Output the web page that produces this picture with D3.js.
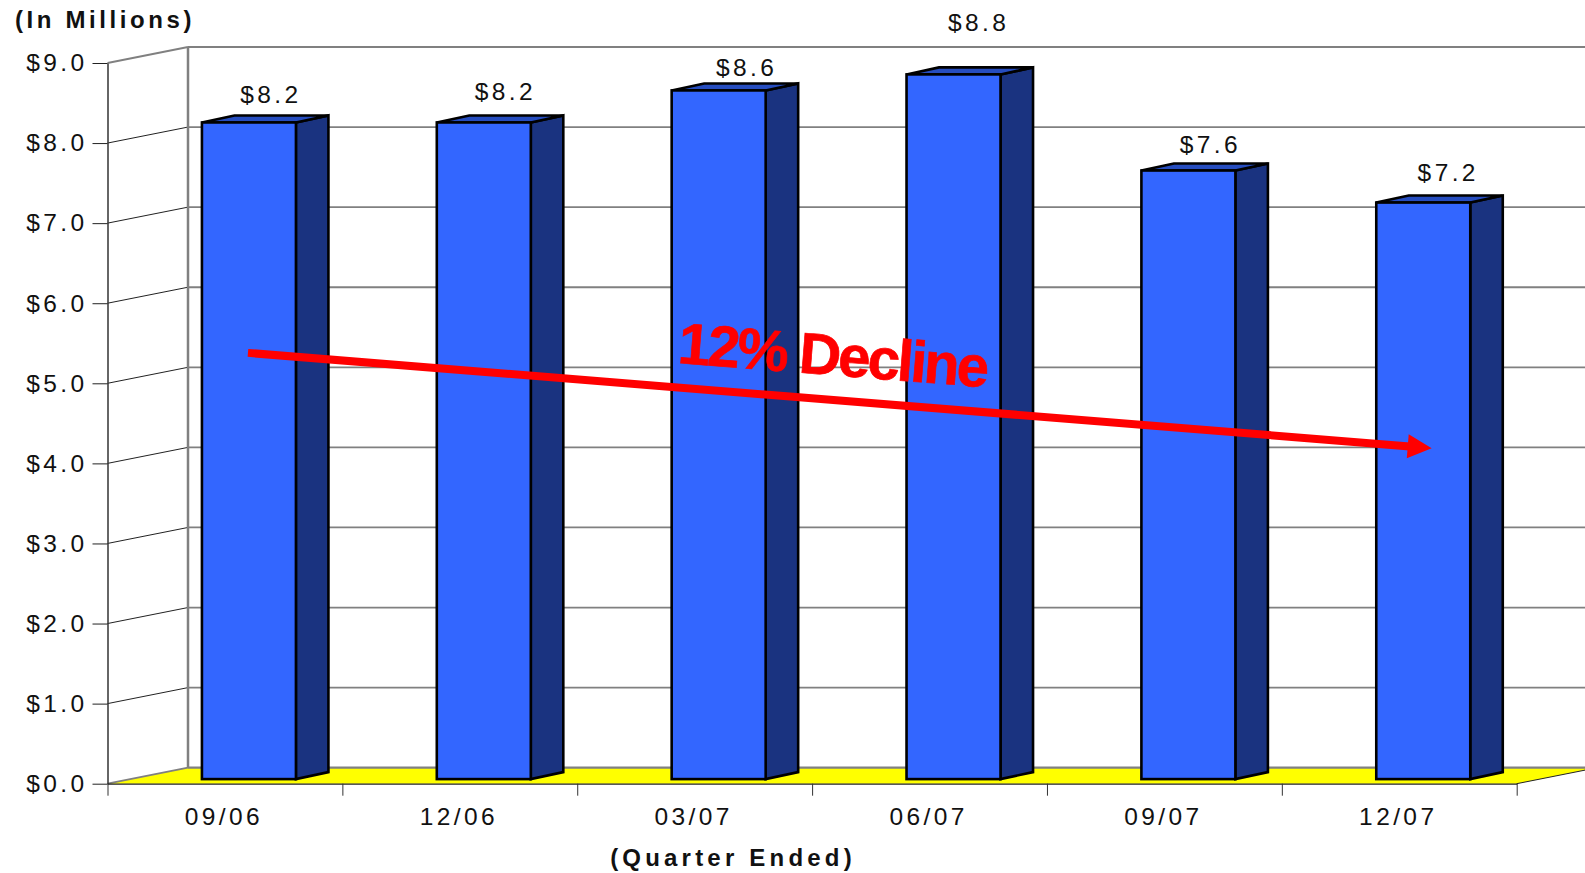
<!DOCTYPE html>
<html>
<head>
<meta charset="utf-8">
<script src="https://cdn.jsdelivr.net/npm/d3@7"></script>
<style>
  html, body { margin: 0; padding: 0; background: #fff; }
  svg { display: block; }
  text { font-family: "Liberation Sans", Arial, sans-serif; fill: #111; }
  .tickLabel { font-size: 24.5px; letter-spacing: 3.4px; }
  .axisTitle { font-size: 24px; font-weight: bold; }
</style>
</head>
<body>
<script>
// Quarterly values, in millions
const quarters = ["09/06", "12/06", "03/07", "06/07", "09/07", "12/07"];
const revenue = [8.2, 8.2, 8.6, 8.8, 7.6, 7.2];
const yTicks = [0, 1, 2, 3, 4, 5, 6, 7, 8, 9];

// Trend arrow ends: [quarter position, value]
const trendStart = [0.598, 5.38];
const trendEnd = [5.638, 4.19];

// Hand placed value labels, nudged from the top of each bar
const labelNudgeX = [22, 21.5, 28, 25, 22, 25];
const labelNudgeY = [-19, -22, -14, -43, -17.5, -22];

const width = 1585;
const height = 873;

const left = 107.5;
const right = 1516.7;
const top_ = 63;
const bottom = 783.7;

// Fake 3D offsets
const wallDx = 80.5;
const wallDy = -16;
const barShiftDx = 24;
const barShiftDy = -4.6;
const barDepthDx = 32.5;
const barDepthDy = -7;

const xBand = d3.scaleBand().domain(quarters).range([left, right]);
const xPos = d3.scaleLinear().domain([0, quarters.length]).range([left, right]);
const y = d3.scaleLinear().domain([0, 9]).range([bottom, top_]);
const barWidth = 94;

const svg = d3.select("body").append("svg")
    .attr("width", width)
    .attr("height", height);

const polyPath = pts => "M" + pts.map(p => p.join(",")).join("L") + "Z";

//Floor
svg.append("path")
    .attr("d", polyPath([
        [left, bottom], [left + wallDx, bottom + wallDy],
        [right + wallDx, bottom + wallDy], [right, bottom]
    ]))
    .attr("fill", "#ffff00");

//Back wall gridlines
svg.append("g")
    .selectAll("line")
    .data(yTicks)
    .enter()
    .append("line")
    .attr("x1", left + wallDx)
    .attr("x2", right + wallDx)
    .attr("y1", d => y(d) + wallDy)
    .attr("y2", d => y(d) + wallDy)
    .attr("stroke", "#808080")
    .attr("stroke-width", d => (d === 0 || d === 9) ? 2.2 : 1.8);

//Side wall lines
svg.append("g")
    .selectAll("line")
    .data(yTicks)
    .enter()
    .append("line")
    .attr("x1", left)
    .attr("x2", left + wallDx)
    .attr("y1", d => y(d))
    .attr("y2", d => y(d) + wallDy)
    .attr("stroke", d => (d === 0 || d === 9) ? "#808080" : "#222")
    .attr("stroke-width", d => (d === 0 || d === 9) ? 1.8 : 1);

//Back wall left edge
svg.append("line")
    .attr("x1", left + wallDx)
    .attr("x2", left + wallDx)
    .attr("y1", y(9) + wallDy)
    .attr("y2", y(0) + wallDy)
    .attr("stroke", "#808080")
    .attr("stroke-width", 2.5);

//Floor right edge
svg.append("line")
    .attr("x1", right)
    .attr("x2", right + wallDx)
    .attr("y1", bottom)
    .attr("y2", bottom + wallDy)
    .attr("stroke", "#222")
    .attr("stroke-width", 1);

//Left axis
const yAxis = svg.append("g")
    .attr("transform", "translate(" + left + ",0)")
    .call(d3.axisLeft(y).tickValues(yTicks).tickSize(15).tickSizeOuter(0).tickPadding(5)
        .tickFormat(d => "$" + d.toFixed(1)));
yAxis.select(".domain").attr("stroke", "#333").attr("stroke-width", 1.5);
yAxis.selectAll(".tick line").attr("stroke", "#222").attr("stroke-width", 1);
yAxis.selectAll("text").attr("class", "tickLabel").attr("fill", "#111").attr("font-family", null).attr("font-size", null);

//Bottom axis, ticks sit between the quarters
const xAxis = svg.append("g")
    .attr("transform", "translate(0," + bottom + ")")
    .call(d3.axisBottom(xPos).tickValues(d3.range(quarters.length + 1)).tickSize(12).tickSizeOuter(0).tickFormat(""));
xAxis.select(".domain").attr("stroke", "#222").attr("stroke-width", 1.2);
xAxis.selectAll(".tick line").attr("stroke", "#333").attr("stroke-width", 1);

//Quarter labels
svg.append("g")
    .selectAll("text")
    .data(quarters)
    .enter()
    .append("text")
    .attr("class", "tickLabel")
    .attr("x", d => xBand(d) + xBand.bandwidth() / 2 - 1)
    .attr("y", 825)
    .attr("text-anchor", "middle")
    .text(d => d);

// ----- Bars -----
const bars = svg.append("g")
    .selectAll("g")
    .data(revenue)
    .enter()
    .append("g")
    .attr("stroke", "#000")
    .attr("stroke-width", 2.6)
    .attr("stroke-linejoin", "miter");

const barLeft = i => xBand(quarters[i]) + (xBand.bandwidth() - barWidth) / 2 + barShiftDx;

//Side face
bars.append("path")
    .attr("fill", "#1a3380")
    .attr("d", (d, i) => {
        const x1 = barLeft(i) + barWidth;
        return polyPath([
            [x1, y(d) + barShiftDy], [x1 + barDepthDx, y(d) + barShiftDy + barDepthDy],
            [x1 + barDepthDx, y(0) + barShiftDy + barDepthDy], [x1, y(0) + barShiftDy]
        ]);
    });

//Top face
bars.append("path")
    .attr("fill", "#264dbf")
    .attr("d", (d, i) => {
        const x0 = barLeft(i);
        const yt = y(d) + barShiftDy;
        return polyPath([
            [x0, yt], [x0 + barDepthDx, yt + barDepthDy],
            [x0 + barWidth + barDepthDx, yt + barDepthDy], [x0 + barWidth, yt]
        ]);
    });

//Front face
bars.append("rect")
    .attr("fill", "#3366ff")
    .attr("x", (d, i) => barLeft(i))
    .attr("y", d => y(d) + barShiftDy)
    .attr("width", barWidth)
    .attr("height", d => y(0) - y(d));

//Value labels
svg.append("g")
    .selectAll("text")
    .data(revenue)
    .enter()
    .append("text")
    .attr("class", "tickLabel")
    .attr("x", (d, i) => barLeft(i) + barWidth / 2 + labelNudgeX[i])
    .attr("y", (d, i) => y(d) + barShiftDy + labelNudgeY[i])
    .attr("text-anchor", "middle")
    .text(d => "$" + d.toFixed(1));

// ----- Trend arrow -----
const ax0 = xPos(trendStart[0]), ay0 = y(trendStart[1]);
const ax1 = xPos(trendEnd[0]), ay1 = y(trendEnd[1]);
const angle = Math.atan2(ay1 - ay0, ax1 - ax0) * 180 / Math.PI;
const arrowLen = Math.hypot(ax1 - ax0, ay1 - ay0);

const arrow = svg.append("g")
    .attr("transform", "translate(" + ax0 + "," + ay0 + ") rotate(" + angle + ")");

arrow.append("line")
    .attr("x1", 0)
    .attr("x2", arrowLen - 22)
    .attr("y1", 0)
    .attr("y2", 0)
    .attr("stroke", "#ff0000")
    .attr("stroke-width", 8);

arrow.append("path")
    .attr("d", polyPath([[arrowLen, 0], [arrowLen - 24, -12], [arrowLen - 24, 12]]))
    .attr("fill", "#ff0000");

//Trend label
svg.append("text")
    .attr("transform", "translate(677,363) rotate(4.5)")
    .attr("font-size", 58)
    .attr("font-weight", "bold")
    .attr("letter-spacing", -2.7)
    .style("fill", "#ff0000")
    .style("stroke", "#ff0000")
    .style("stroke-width", 0.7)
    .text("12% Decline");

// ----- Axis titles -----
svg.append("text")
    .attr("class", "axisTitle")
    .attr("x", 15)
    .attr("y", 28)
    .attr("letter-spacing", 3.6)
    .text("(In Millions)");

svg.append("text")
    .attr("class", "axisTitle")
    .attr("x", 733)
    .attr("y", 866)
    .attr("letter-spacing", 4.2)
    .attr("text-anchor", "middle")
    .text("(Quarter Ended)");
</script>
</body>
</html>
